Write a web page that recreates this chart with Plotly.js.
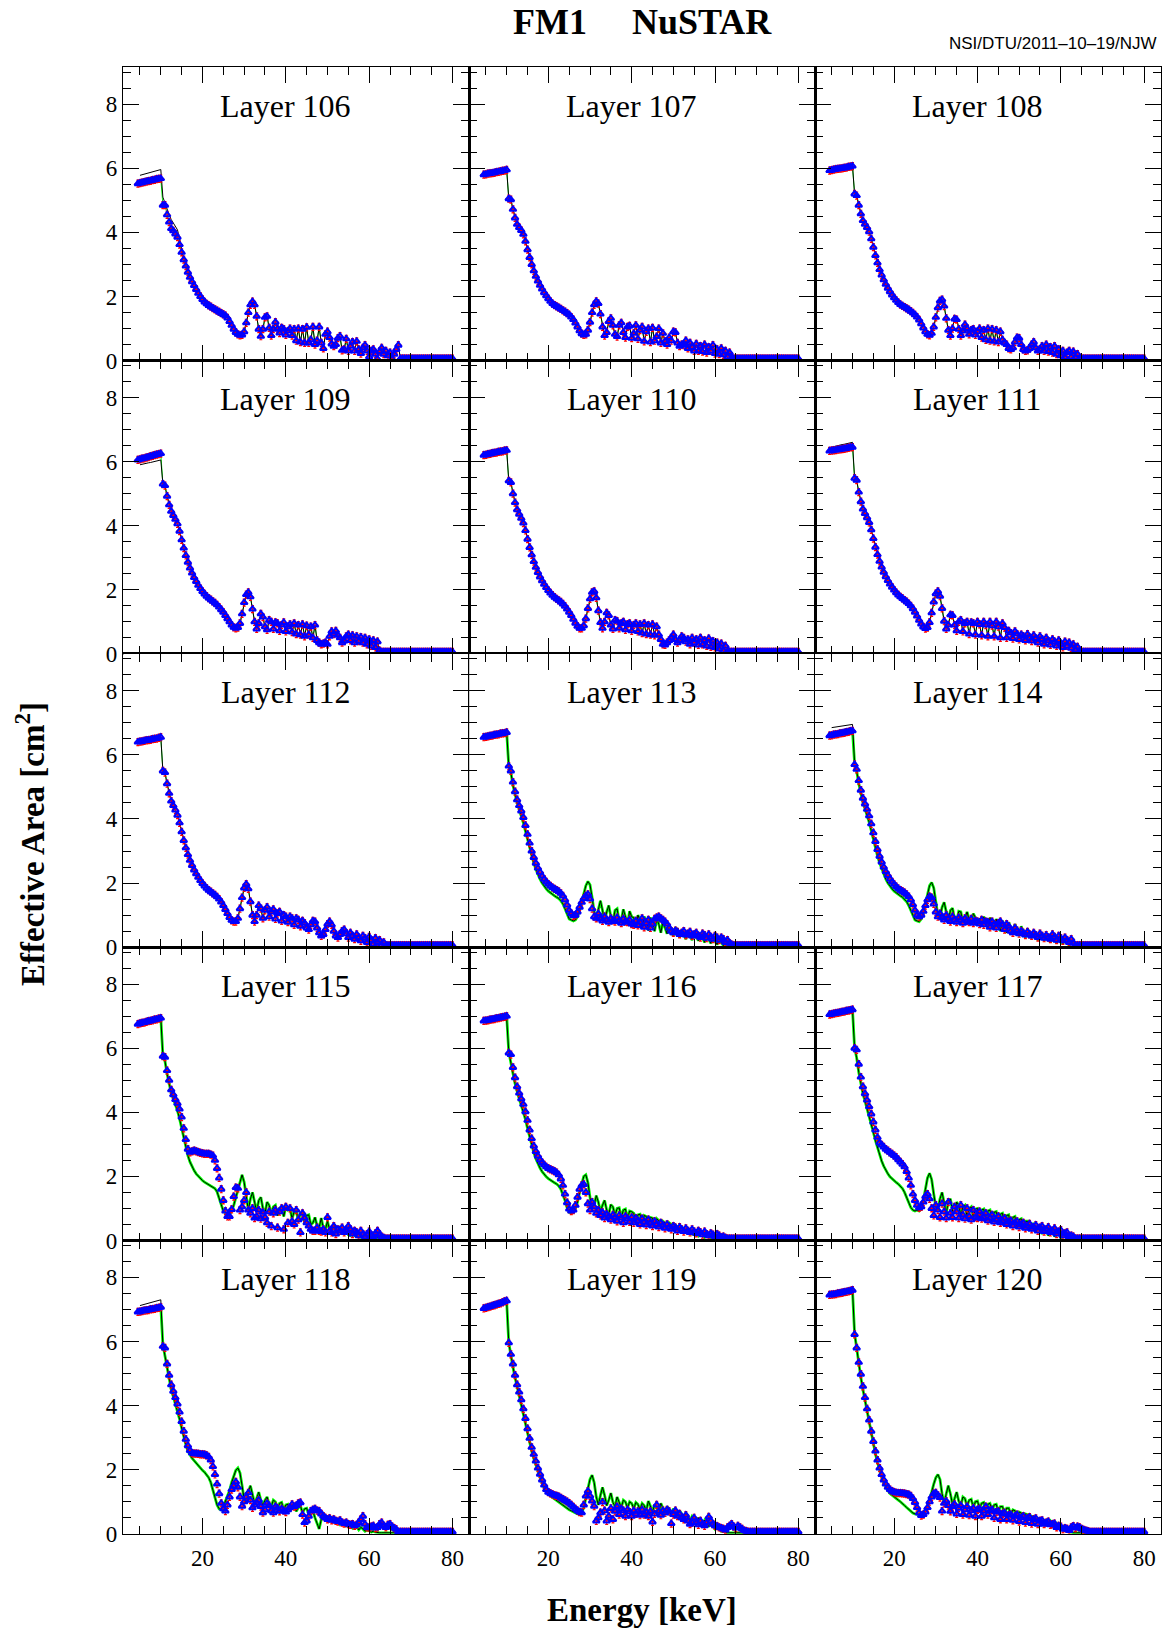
<!DOCTYPE html>
<html><head><meta charset="utf-8">
<script src="https://cdn.plot.ly/plotly-3.0.1.min.js"></script>
<style>html,body{margin:0;padding:0;background:#fff}#chart{width:1165px;height:1632px}
#chart .xtick text,#chart .ytick text{font-family:'Liberation Serif',serif !important}</style>
</head><body><div id="chart"></div>
<script>
// Energy grid of the measured points [keV]
const energy = [4.5,5,5.5,6,6.5,7,7.5,8,8.5,9,9.5,10,
10.5,11,11.5,12,12.5,13,13.5,14,14.5,15,15.5,16,16.5,17,17.5,18,18.5,19,19.5,20,20.5,21,21.5,22,22.5,23,23.5,24,24.5,25,
25.5,26,26.5,27,27.5,28,28.5,29,29.5,30,30.5,31,31.5,32,32.5,33,33.5,34,34.5,35,35.5,36,36.5,37,37.5,38,38.5,39,39.5,40,
40.5,41,41.5,42,42.5,43,43.5,44,44.5,45,45.5,46,46.5,47,47.5,48,48.5,49,49.5,50,50.5,51,51.5,52,52.5,53,53.5,54,54.5,55,
55.5,56,56.5,57,57.5,58,58.5,59,59.5,60,60.5,61,61.5,62,62.5,63,63.5,64,64.5,65,65.5,66,66.5,67,
67.5,68,68.5,69,69.5,70,70.5,71,71.5,72,72.5,73,73.5,74,74.5,75,75.5,76,76.5,77,77.5,78,78.5,79,79.5,80];
// model curves are given from 5 to 70 keV
const modelEnergy = energy.slice(1, 132);

const layerNames = ['Layer 106','Layer 107','Layer 108','Layer 109','Layer 110','Layer 111','Layer 112','Layer 113','Layer 114','Layer 115','Layer 116','Layer 117','Layer 118','Layer 119','Layer 120'];
const xTickVals = [20,40,60,80];
const xMidTicks = [10,30,50,70];
const yTickVals = [0,2,4,6,8];
const yMidTicks = [1,3,5,7,9];

// ---- measured effective area (blue points) and model (black line) per layer ----
const d106 = [5.52,5.54,5.55,5.57,5.58,5.6,5.61,5.63,5.64,5.66,5.67,5.68,
4.85,4.85,4.55,4.32,4.12,4.05,3.95,3.85,3.62,3.38,3.15,2.95,2.76,2.6,2.46,2.34,2.22,2.1,2.0,1.91,1.83,1.77,1.72,1.68,1.64,1.6,1.56,1.52,1.48,1.44,
1.4,1.33,1.22,1.1,0.98,0.88,0.82,0.79,0.8,0.9,1.18,1.5,1.74,1.84,1.74,1.38,0.98,0.76,0.98,1.35,1.38,1.02,0.78,0.98,1.2,1.0,0.86,1.02,0.98,0.8,
0.92,1.0,0.78,0.98,0.62,1.0,0.58,0.98,0.55,1.04,0.55,0.65,1.05,0.5,0.62,1.05,0.55,0.38,0.82,0.9,0.72,0.52,0.45,0.5,0.7,0.76,0.32,0.35,0.68,0.3,
0.45,0.58,0.3,0.6,0.35,0.22,0.4,0.48,0.3,0.12,0.3,0.35,0.2,0.05,0.28,0.4,0.2,0.3,0.15,0.25,0.05,0.2,0.35,0.48,
0.06,0.06,0.06,0.06,0.06,0.06,0.06,0.06,0.06,0.06,0.06,0.06,0.06,0.06,0.06,0.06,0.06,0.06,0.06,0.06,0.06,0.06,0.06,0.06,0.06,0.06];
const m106 = [5.78,5.8,5.82,5.84,5.86,5.87,5.88,5.9,5.92,5.94,5.96,
5.1,4.9,4.75,4.55,4.4,4.3,4.2,4.08,3.8,3.45,3.16,2.95,2.76,2.6,2.46,2.34,2.22,2.1,2.0,1.91,1.83,1.77,1.72,1.68,1.64,1.6,1.56,1.52,1.48,1.44,
1.4,1.33,1.22,1.1,0.98,0.88,0.82,0.79,0.8,0.9,1.18,1.5,1.74,1.84,1.74,1.38,0.98,0.76,0.98,1.35,1.38,1.02,0.78,0.98,1.2,1.0,0.86,1.02,0.98,0.8,
0.92,1.0,0.78,0.98,0.62,1.0,0.58,0.98,0.55,1.04,0.55,0.65,1.05,0.5,0.62,1.05,0.55,0.38,0.82,0.9,0.72,0.52,0.45,0.5,0.7,0.76,0.32,0.35,0.68,0.3,
0.45,0.58,0.3,0.6,0.35,0.22,0.4,0.48,0.3,0.12,0.3,0.35,0.2,0.05,0.28,0.4,0.2,0.3,0.15,0.25,0.05,0.2,0.35,0.48,
0.03,0.03,0.03,0.03,0.03,0.03];

const d107 = [5.8,5.81,5.83,5.84,5.85,5.86,5.88,5.89,5.9,5.92,5.93,5.95,
5.05,5.02,4.72,4.45,4.25,4.15,4.06,3.94,3.72,3.46,3.22,3.0,2.8,2.63,2.48,2.35,2.23,2.12,2.02,1.93,1.85,1.78,1.73,1.69,1.65,1.61,1.57,1.53,1.48,1.43,
1.36,1.28,1.17,1.05,0.93,0.84,0.8,0.82,0.95,1.2,1.5,1.74,1.85,1.78,1.45,1.05,0.78,0.88,1.22,1.32,1.1,0.82,0.75,1.1,1.18,0.88,0.72,1.05,1.08,0.7,
0.85,1.1,0.68,0.95,1.05,0.6,0.9,1.0,0.58,1.02,0.62,0.75,1.0,0.55,0.85,0.6,0.5,0.72,0.62,0.9,0.88,0.55,0.45,0.5,0.48,0.62,0.38,0.55,0.42,0.3,
0.52,0.3,0.45,0.28,0.5,0.25,0.42,0.3,0.48,0.22,0.35,0.2,0.38,0.18,0.3,0.12,0.25,0.08,0.06,0.06,0.06,0.06,0.06,0.06,
0.06,0.06,0.06,0.06,0.06,0.06,0.06,0.06,0.06,0.06,0.06,0.06,0.06,0.06,0.06,0.06,0.06,0.06,0.06,0.06,0.06,0.06,0.06,0.06,0.06,0.06];
const m107 = [5.81,5.83,5.84,5.85,5.86,5.88,5.89,5.9,5.92,5.93,5.95,
5.05,5.02,4.72,4.45,4.25,4.15,4.06,3.94,3.72,3.46,3.22,3.0,2.8,2.63,2.48,2.35,2.23,2.12,2.02,1.93,1.85,1.78,1.73,1.69,1.65,1.61,1.57,1.53,1.48,1.43,
1.36,1.28,1.17,1.05,0.93,0.84,0.8,0.82,0.95,1.2,1.5,1.74,1.85,1.78,1.45,1.05,0.78,0.88,1.22,1.32,1.1,0.82,0.75,1.1,1.18,0.88,0.72,1.05,1.08,0.7,
0.85,1.1,0.68,0.95,1.05,0.6,0.9,1.0,0.58,1.02,0.62,0.75,1.0,0.55,0.85,0.6,0.5,0.72,0.62,0.9,0.88,0.55,0.45,0.5,0.48,0.62,0.38,0.55,0.42,0.3,
0.52,0.3,0.45,0.28,0.5,0.25,0.42,0.3,0.48,0.22,0.35,0.2,0.38,0.18,0.3,0.12,0.25,0.08,0.04,0.03,0.03,0.03,0.03,0.03,
0.03,0.03,0.03,0.03,0.03,0.03];

const d108 = [5.93,5.94,5.96,5.97,5.98,5.99,6.0,6.01,6.02,6.04,6.05,6.07,
5.2,5.15,4.85,4.58,4.37,4.25,4.15,4.02,3.8,3.54,3.28,3.05,2.84,2.67,2.52,2.38,2.26,2.15,2.05,1.96,1.88,1.81,1.75,1.71,1.67,1.63,1.59,1.54,1.49,1.43,
1.36,1.27,1.15,1.02,0.9,0.82,0.79,0.85,1.05,1.35,1.65,1.86,1.9,1.7,1.32,0.95,0.78,1.0,1.3,1.28,0.98,0.78,0.92,1.12,1.0,0.82,0.95,0.98,0.8,0.9,
1.0,0.72,0.95,0.65,1.0,0.62,0.98,0.6,0.95,0.58,0.9,0.65,0.55,0.5,0.38,0.35,0.4,0.58,0.72,0.7,0.5,0.35,0.3,0.32,0.38,0.5,0.58,0.4,0.3,0.35,
0.45,0.3,0.5,0.28,0.42,0.25,0.45,0.2,0.35,0.15,0.3,0.1,0.25,0.3,0.12,0.28,0.1,0.2,0.06,0.06,0.06,0.06,0.06,0.06,
0.06,0.06,0.06,0.06,0.06,0.06,0.06,0.06,0.06,0.06,0.06,0.06,0.06,0.06,0.06,0.06,0.06,0.06,0.06,0.06,0.06,0.06,0.06,0.06,0.06,0.06];
const m108 = [5.94,5.96,5.97,5.98,5.99,6.0,6.01,6.02,6.04,6.05,6.07,
5.2,5.15,4.85,4.58,4.37,4.25,4.15,4.02,3.8,3.54,3.28,3.05,2.84,2.67,2.52,2.38,2.26,2.15,2.05,1.96,1.88,1.81,1.75,1.71,1.67,1.63,1.59,1.54,1.49,1.43,
1.36,1.27,1.15,1.02,0.9,0.82,0.79,0.85,1.05,1.35,1.65,1.86,1.9,1.7,1.32,0.95,0.78,1.0,1.3,1.28,0.98,0.78,0.92,1.12,1.0,0.82,0.95,0.98,0.8,0.9,
1.0,0.72,0.95,0.65,1.0,0.62,0.98,0.6,0.95,0.58,0.9,0.65,0.55,0.5,0.38,0.35,0.4,0.58,0.72,0.7,0.5,0.35,0.3,0.32,0.38,0.5,0.58,0.4,0.3,0.35,
0.45,0.3,0.5,0.28,0.42,0.25,0.45,0.2,0.35,0.15,0.3,0.1,0.25,0.3,0.12,0.28,0.1,0.2,0.04,0.03,0.03,0.03,0.03,0.03,
0.03,0.03,0.03,0.03,0.03,0.03];

const d109 = [6.05,6.07,6.09,6.1,6.12,6.14,6.16,6.18,6.2,6.22,6.23,6.25,
5.3,5.25,4.92,4.65,4.45,4.32,4.2,4.06,3.83,3.56,3.3,3.07,2.86,2.68,2.52,2.38,2.26,2.14,2.04,1.95,1.87,1.8,1.74,1.69,1.64,1.59,1.53,1.46,1.38,1.3,
1.2,1.1,1.0,0.9,0.83,0.8,0.82,0.95,1.25,1.6,1.85,1.92,1.78,1.4,1.0,0.78,0.95,1.25,1.15,0.85,0.75,1.05,1.0,0.78,0.98,0.95,0.72,0.9,0.98,0.7,
0.85,0.92,0.68,0.95,0.62,0.9,0.6,0.92,0.55,0.88,0.6,0.85,0.5,0.9,0.42,0.35,0.3,0.32,0.35,0.3,0.55,0.7,0.62,0.72,0.58,0.5,0.35,0.4,0.55,0.6,
0.42,0.58,0.35,0.55,0.4,0.52,0.35,0.5,0.3,0.45,0.25,0.42,0.2,0.38,0.1,0.06,0.06,0.06,0.06,0.06,0.06,0.06,0.06,0.06,
0.06,0.06,0.06,0.06,0.06,0.06,0.06,0.06,0.06,0.06,0.06,0.06,0.06,0.06,0.06,0.06,0.06,0.06,0.06,0.06,0.06,0.06,0.06,0.06,0.06,0.06];
const m109 = [5.9,5.92,5.93,5.95,5.96,5.97,5.99,6.0,6.02,6.03,6.05,
5.3,5.25,4.92,4.65,4.45,4.32,4.2,4.06,3.83,3.56,3.3,3.07,2.86,2.68,2.52,2.38,2.26,2.14,2.04,1.95,1.87,1.8,1.74,1.69,1.64,1.59,1.53,1.46,1.38,1.3,
1.2,1.1,1.0,0.9,0.83,0.8,0.82,0.95,1.25,1.6,1.85,1.92,1.78,1.4,1.0,0.78,0.95,1.25,1.15,0.85,0.75,1.05,1.0,0.78,0.98,0.95,0.72,0.9,0.98,0.7,
0.85,0.92,0.68,0.95,0.62,0.9,0.6,0.92,0.55,0.88,0.6,0.85,0.5,0.9,0.42,0.35,0.3,0.32,0.35,0.3,0.55,0.7,0.62,0.72,0.58,0.5,0.35,0.4,0.55,0.6,
0.42,0.58,0.35,0.55,0.4,0.52,0.35,0.5,0.3,0.45,0.25,0.42,0.2,0.38,0.1,0.04,0.03,0.03,0.03,0.03,0.03,0.03,0.03,0.03,
0.03,0.03,0.03,0.03,0.03,0.03];

const d110 = [6.2,6.21,6.23,6.24,6.26,6.27,6.28,6.3,6.31,6.32,6.34,6.35,
5.4,5.35,5.0,4.72,4.5,4.36,4.23,4.08,3.85,3.58,3.32,3.09,2.88,2.7,2.54,2.4,2.28,2.17,2.07,1.98,1.9,1.83,1.77,1.72,1.67,1.62,1.56,1.49,1.4,1.3,
1.2,1.08,0.96,0.86,0.8,0.8,0.88,1.1,1.42,1.72,1.92,1.95,1.75,1.35,0.98,0.8,1.0,1.28,1.2,0.9,0.78,1.05,1.02,0.8,0.95,1.0,0.75,0.92,0.95,0.72,
0.9,0.95,0.7,0.92,0.65,0.95,0.62,0.9,0.6,0.92,0.58,0.85,0.6,0.45,0.3,0.28,0.35,0.42,0.5,0.6,0.45,0.35,0.42,0.55,0.5,0.38,0.45,0.3,0.5,0.35,
0.45,0.28,0.5,0.3,0.42,0.25,0.48,0.22,0.4,0.2,0.35,0.15,0.32,0.1,0.25,0.06,0.06,0.06,0.06,0.06,0.06,0.06,0.06,0.06,
0.06,0.06,0.06,0.06,0.06,0.06,0.06,0.06,0.06,0.06,0.06,0.06,0.06,0.06,0.06,0.06,0.06,0.06,0.06,0.06,0.06,0.06,0.06,0.06,0.06,0.06];
const m110 = [6.21,6.23,6.24,6.26,6.27,6.28,6.3,6.31,6.32,6.34,6.35,
5.4,5.35,5.0,4.72,4.5,4.36,4.23,4.08,3.85,3.58,3.32,3.09,2.88,2.7,2.54,2.4,2.28,2.17,2.07,1.98,1.9,1.83,1.77,1.72,1.67,1.62,1.56,1.49,1.4,1.3,
1.2,1.08,0.96,0.86,0.8,0.8,0.88,1.1,1.42,1.72,1.92,1.95,1.75,1.35,0.98,0.8,1.0,1.28,1.2,0.9,0.78,1.05,1.02,0.8,0.95,1.0,0.75,0.92,0.95,0.72,
0.9,0.95,0.7,0.92,0.65,0.95,0.62,0.9,0.6,0.92,0.58,0.85,0.6,0.45,0.3,0.28,0.35,0.42,0.5,0.6,0.45,0.35,0.42,0.55,0.5,0.38,0.45,0.3,0.5,0.35,
0.45,0.28,0.5,0.3,0.42,0.25,0.48,0.22,0.4,0.2,0.35,0.15,0.32,0.1,0.25,0.04,0.03,0.03,0.03,0.03,0.03,0.03,0.03,0.03,
0.03,0.03,0.03,0.03,0.03,0.03];

const d111 = [6.33,6.34,6.35,6.36,6.37,6.38,6.39,6.4,6.41,6.43,6.44,6.45,
5.48,5.42,5.05,4.75,4.52,4.38,4.25,4.1,3.87,3.6,3.33,3.1,2.89,2.71,2.55,2.41,2.29,2.18,2.08,1.99,1.91,1.84,1.78,1.73,1.68,1.63,1.57,1.5,1.41,1.3,
1.18,1.05,0.93,0.84,0.79,0.82,0.98,1.28,1.62,1.88,1.95,1.8,1.42,1.02,0.78,0.9,1.22,1.2,0.9,0.72,1.0,1.05,0.7,0.95,1.0,0.62,0.98,0.95,0.6,1.0,
0.92,0.58,1.0,0.9,0.55,1.0,0.88,0.55,1.0,0.85,0.5,0.95,0.82,0.5,0.72,0.65,0.48,0.7,0.62,0.45,0.6,0.55,0.42,0.62,0.5,0.4,0.58,0.48,0.35,0.55,
0.45,0.3,0.5,0.4,0.28,0.45,0.38,0.25,0.42,0.3,0.2,0.38,0.25,0.35,0.18,0.3,0.12,0.22,0.06,0.06,0.06,0.06,0.06,0.06,
0.06,0.06,0.06,0.06,0.06,0.06,0.06,0.06,0.06,0.06,0.06,0.06,0.06,0.06,0.06,0.06,0.06,0.06,0.06,0.06,0.06,0.06,0.06,0.06,0.06,0.06];
const m111 = [6.45,6.47,6.48,6.5,6.51,6.53,6.54,6.56,6.57,6.58,6.6,
5.48,5.42,5.05,4.75,4.52,4.38,4.25,4.1,3.87,3.6,3.33,3.1,2.89,2.71,2.55,2.41,2.29,2.18,2.08,1.99,1.91,1.84,1.78,1.73,1.68,1.63,1.57,1.5,1.41,1.3,
1.18,1.05,0.93,0.84,0.79,0.82,0.98,1.28,1.62,1.88,1.95,1.8,1.42,1.02,0.78,0.9,1.22,1.2,0.9,0.72,1.0,1.05,0.7,0.95,1.0,0.62,0.98,0.95,0.6,1.0,
0.92,0.58,1.0,0.9,0.55,1.0,0.88,0.55,1.0,0.85,0.5,0.95,0.82,0.5,0.72,0.65,0.48,0.7,0.62,0.45,0.6,0.55,0.42,0.62,0.5,0.4,0.58,0.48,0.35,0.55,
0.45,0.3,0.5,0.4,0.28,0.45,0.38,0.25,0.42,0.3,0.2,0.38,0.25,0.35,0.18,0.3,0.12,0.22,0.04,0.03,0.03,0.03,0.03,0.03,
0.03,0.03,0.03,0.03,0.03,0.03];

const d112 = [6.4,6.41,6.42,6.44,6.45,6.46,6.47,6.49,6.5,6.51,6.53,6.55,
5.5,5.45,5.1,4.8,4.56,4.42,4.28,4.12,3.88,3.6,3.33,3.1,2.89,2.71,2.55,2.41,2.29,2.18,2.08,1.99,1.91,1.84,1.78,1.73,1.68,1.63,1.57,1.5,1.41,1.3,
1.18,1.05,0.93,0.84,0.8,0.8,0.9,1.2,1.55,1.85,1.97,1.82,1.42,1.0,0.8,1.0,1.3,1.2,0.9,1.15,1.25,0.95,1.1,1.18,0.88,1.05,1.1,0.82,1.0,0.95,
0.78,0.95,0.9,0.7,0.9,0.85,0.65,0.82,0.75,0.6,0.55,0.7,0.82,0.8,0.6,0.45,0.35,0.4,0.55,0.72,0.8,0.7,0.5,0.35,0.3,0.4,0.5,0.55,0.42,0.3,
0.45,0.35,0.25,0.4,0.3,0.2,0.35,0.28,0.15,0.32,0.22,0.1,0.28,0.15,0.22,0.08,0.15,0.06,0.06,0.06,0.06,0.06,0.06,0.06,
0.06,0.06,0.06,0.06,0.06,0.06,0.06,0.06,0.06,0.06,0.06,0.06,0.06,0.06,0.06,0.06,0.06,0.06,0.06,0.06,0.06,0.06,0.06,0.06,0.06,0.06];
const m112 = [6.41,6.42,6.44,6.45,6.46,6.47,6.49,6.5,6.51,6.53,6.55,
5.5,5.45,5.1,4.8,4.56,4.42,4.28,4.12,3.88,3.6,3.33,3.1,2.89,2.71,2.55,2.41,2.29,2.18,2.08,1.99,1.91,1.84,1.78,1.73,1.68,1.63,1.57,1.5,1.41,1.3,
1.18,1.05,0.93,0.84,0.8,0.8,0.9,1.2,1.55,1.85,1.97,1.82,1.42,1.0,0.8,1.0,1.3,1.2,0.9,1.15,1.25,0.95,1.1,1.18,0.88,1.05,1.1,0.82,1.0,0.95,
0.78,0.95,0.9,0.7,0.9,0.85,0.65,0.82,0.75,0.6,0.55,0.7,0.82,0.8,0.6,0.45,0.35,0.4,0.55,0.72,0.8,0.7,0.5,0.35,0.3,0.4,0.5,0.55,0.42,0.3,
0.45,0.35,0.25,0.4,0.3,0.2,0.35,0.28,0.15,0.32,0.22,0.1,0.28,0.15,0.22,0.08,0.15,0.04,0.03,0.03,0.03,0.03,0.03,0.03,
0.03,0.03,0.03,0.03,0.03,0.03];

const d113 = [6.55,6.56,6.58,6.59,6.6,6.62,6.63,6.64,6.66,6.67,6.68,6.7,
5.65,5.5,5.15,4.85,4.6,4.42,4.25,4.05,3.8,3.52,3.25,3.0,2.8,2.62,2.47,2.34,2.22,2.12,2.04,1.97,1.91,1.86,1.82,1.78,1.74,1.68,1.6,1.48,1.32,1.15,
1.05,0.98,1.0,1.1,1.25,1.4,1.52,1.6,1.65,1.5,1.2,0.95,0.9,1.05,0.88,0.82,0.95,0.85,0.78,0.9,0.84,0.8,0.92,0.82,0.75,0.88,0.8,0.78,0.85,0.72,
0.7,0.82,0.68,0.78,0.9,0.62,0.75,0.85,0.6,0.72,0.88,0.92,0.95,0.9,0.85,0.8,0.72,0.6,0.5,0.45,0.52,0.48,0.4,0.45,0.5,0.38,0.42,0.48,0.35,0.4,
0.45,0.35,0.3,0.42,0.38,0.28,0.4,0.32,0.25,0.35,0.3,0.22,0.3,0.25,0.15,0.22,0.12,0.08,0.06,0.06,0.06,0.06,0.06,0.06,
0.06,0.06,0.06,0.06,0.06,0.06,0.06,0.06,0.06,0.06,0.06,0.06,0.06,0.06,0.06,0.06,0.06,0.06,0.06,0.06,0.06,0.06,0.06,0.06,0.06,0.06];
const m113 = [6.56,6.58,6.59,6.6,6.62,6.63,6.64,6.66,6.67,6.68,6.7,
5.65,5.45,5.05,4.75,4.5,4.3,4.1,3.88,3.62,3.35,3.08,2.84,2.62,2.43,2.26,2.12,2.0,1.9,1.82,1.75,1.69,1.64,1.6,1.56,1.52,1.45,1.35,1.2,1.02,0.88,
0.85,0.82,0.85,0.95,1.15,1.42,1.7,1.92,2.05,1.95,1.55,1.1,0.9,1.2,1.45,1.15,0.82,1.1,1.3,0.95,0.78,1.15,1.2,0.8,0.85,1.18,0.92,0.72,1.12,0.95,
0.92,0.62,1.0,0.85,0.58,0.95,0.82,0.52,0.92,0.78,0.5,0.88,0.72,0.45,0.8,0.62,0.42,0.7,0.55,0.35,0.62,0.48,0.3,0.55,0.42,0.25,0.5,0.38,0.22,0.45,
0.35,0.2,0.42,0.3,0.15,0.38,0.25,0.12,0.3,0.2,0.08,0.25,0.15,0.05,0.18,0.08,0.04,0.03,0.03,0.03,0.03,0.03,0.03,0.03,
0.03,0.03,0.03,0.03,0.03,0.03];

const d114 = [6.6,6.61,6.63,6.64,6.65,6.67,6.68,6.69,6.71,6.72,6.74,6.75,
5.7,5.55,5.2,4.9,4.65,4.47,4.3,4.1,3.85,3.57,3.3,3.05,2.84,2.66,2.5,2.36,2.24,2.13,2.04,1.96,1.89,1.83,1.78,1.74,1.7,1.65,1.58,1.48,1.33,1.15,
1.0,0.95,1.0,1.12,1.3,1.48,1.58,1.55,1.35,1.1,0.95,1.05,0.92,0.85,1.0,0.88,0.8,0.95,0.85,0.78,0.92,0.85,0.75,0.9,0.82,0.78,0.88,0.75,0.82,0.8,
0.72,0.85,0.7,0.8,0.78,0.62,0.8,0.72,0.6,0.75,0.8,0.7,0.55,0.72,0.65,0.5,0.45,0.6,0.52,0.42,0.5,0.45,0.38,0.48,0.4,0.35,0.45,0.38,0.3,0.42,
0.35,0.28,0.38,0.3,0.25,0.4,0.32,0.22,0.35,0.28,0.2,0.3,0.22,0.15,0.25,0.12,0.06,0.06,0.06,0.06,0.06,0.06,0.06,0.06,
0.06,0.06,0.06,0.06,0.06,0.06,0.06,0.06,0.06,0.06,0.06,0.06,0.06,0.06,0.06,0.06,0.06,0.06,0.06,0.06,0.06,0.06,0.06,0.06,0.06,0.06];
const m114 = [6.85,6.86,6.87,6.88,6.89,6.9,6.91,6.92,6.93,6.94,6.95,
5.75,5.5,5.1,4.78,4.52,4.32,4.12,3.9,3.64,3.36,3.1,2.85,2.63,2.44,2.27,2.12,2.0,1.9,1.82,1.75,1.69,1.64,1.6,1.56,1.5,1.42,1.3,1.15,0.98,0.85,
0.82,0.8,0.88,1.05,1.35,1.68,1.92,2.02,1.85,1.42,1.0,0.9,1.25,1.4,1.05,0.82,1.15,1.22,0.88,0.8,1.12,1.1,0.78,0.9,1.1,0.85,0.75,1.05,0.92,0.7,
0.9,0.65,0.95,0.82,0.58,0.92,0.78,0.55,0.88,0.72,0.5,0.82,0.68,0.45,0.78,0.6,0.4,0.72,0.55,0.35,0.65,0.48,0.3,0.58,0.42,0.28,0.5,0.38,0.22,0.45,
0.35,0.2,0.4,0.28,0.15,0.38,0.25,0.12,0.32,0.2,0.1,0.28,0.15,0.06,0.2,0.08,0.04,0.03,0.03,0.03,0.03,0.03,0.03,0.03,
0.03,0.03,0.03,0.03,0.03,0.03];
const g114lo = [6.61,6.63,6.64,6.65,6.67,6.68,6.69,6.71,6.72,6.74,6.75];

const d115 = [6.75,6.77,6.79,6.8,6.82,6.84,6.85,6.87,6.89,6.9,6.92,6.94,
5.75,5.72,5.3,5.0,4.7,4.55,4.4,4.28,4.1,3.85,3.5,3.15,2.85,2.75,2.78,2.8,2.78,2.76,2.73,2.72,2.7,2.7,2.7,2.68,2.65,2.5,2.25,1.95,1.6,1.25,
0.92,0.75,0.75,0.97,1.37,1.65,1.63,0.95,1.05,1.25,1.5,0.95,0.85,1.0,0.7,0.75,0.95,0.68,0.88,0.72,0.55,0.9,0.45,0.85,0.95,0.4,0.9,1.0,0.35,1.05,
0.55,1.0,0.6,0.5,0.95,0.65,0.25,0.85,0.7,0.55,0.45,0.35,0.3,0.3,0.4,0.3,0.28,0.35,0.25,0.72,0.3,0.25,0.45,0.2,0.35,0.3,0.4,0.25,0.3,0.45,
0.35,0.2,0.3,0.25,0.15,0.3,0.2,0.12,0.2,0.28,0.15,0.1,0.22,0.3,0.18,0.12,0.08,0.06,0.06,0.06,0.06,0.06,0.06,0.06,
0.06,0.06,0.06,0.06,0.06,0.06,0.06,0.06,0.06,0.06,0.06,0.06,0.06,0.06,0.06,0.06,0.06,0.06,0.06,0.06,0.06,0.06,0.06,0.06,0.06,0.06];
const m115 = [6.77,6.79,6.8,6.82,6.84,6.85,6.87,6.89,6.9,6.92,6.94,
5.78,5.6,5.2,4.88,4.6,4.42,4.25,4.05,3.8,3.5,3.2,2.92,2.65,2.45,2.3,2.18,2.08,2.0,1.93,1.87,1.82,1.78,1.75,1.72,1.68,1.62,1.52,1.35,1.12,0.92,
0.85,0.8,0.82,0.92,1.1,1.35,1.62,1.88,2.05,1.82,1.35,0.95,1.3,1.5,1.2,0.9,1.25,1.35,1.0,0.85,1.2,1.1,0.82,1.05,1.1,0.78,1.0,1.05,0.75,1.05,
0.95,1.0,0.68,0.9,0.92,0.62,0.85,0.88,0.55,0.78,0.8,0.5,0.55,0.72,0.45,0.4,0.7,0.38,0.35,0.6,0.32,0.3,0.52,0.28,0.25,0.45,0.22,0.2,0.38,0.18,
0.15,0.3,0.15,0.12,0.25,0.1,0.08,0.2,0.08,0.06,0.15,0.05,0.04,0.1,0.04,0.03,0.03,0.03,0.03,0.03,0.03,0.03,0.03,0.03,
0.03,0.03,0.03,0.03,0.03,0.03];

const d116 = [6.85,6.86,6.87,6.89,6.9,6.91,6.93,6.94,6.95,6.97,6.98,7.0,
5.85,5.8,5.4,5.08,4.8,4.6,4.42,4.25,4.02,3.75,3.45,3.18,2.95,2.78,2.64,2.52,2.43,2.36,2.3,2.25,2.22,2.19,2.16,2.12,2.05,1.92,1.72,1.45,1.18,0.98,
0.92,0.95,1.1,1.35,1.6,1.72,1.75,1.5,1.15,0.95,1.2,1.05,0.85,0.95,0.78,0.88,0.7,0.82,0.75,0.65,0.8,0.72,0.6,0.78,0.7,0.55,0.75,0.68,0.58,0.72,
0.55,0.7,0.62,0.5,0.68,0.58,0.48,0.65,0.55,0.45,0.6,0.5,0.42,0.55,0.48,0.38,0.5,0.42,0.35,0.45,0.4,0.3,0.42,0.35,0.28,0.38,0.3,0.25,0.35,0.28,
0.22,0.3,0.25,0.18,0.28,0.2,0.15,0.22,0.18,0.12,0.2,0.15,0.1,0.12,0.08,0.06,0.06,0.06,0.06,0.06,0.06,0.06,0.06,0.06,
0.06,0.06,0.06,0.06,0.06,0.06,0.06,0.06,0.06,0.06,0.06,0.06,0.06,0.06,0.06,0.06,0.06,0.06,0.06,0.06,0.06,0.06,0.06,0.06,0.06,0.06];
const m116 = [6.76,6.77,6.79,6.8,6.82,6.83,6.85,6.86,6.88,6.89,6.9,
5.88,5.6,5.22,4.9,4.62,4.42,4.22,4.02,3.78,3.5,3.22,2.96,2.74,2.55,2.39,2.26,2.15,2.06,1.99,1.93,1.88,1.84,1.8,1.76,1.7,1.6,1.45,1.25,1.02,0.88,
0.85,0.88,1.0,1.2,1.5,1.8,2.0,2.05,1.8,1.35,1.0,1.1,1.4,1.2,0.9,1.1,1.25,0.95,0.82,1.12,1.05,0.78,1.0,1.02,0.72,0.95,0.98,0.68,0.92,0.9,
0.85,0.6,0.8,0.82,0.55,0.78,0.75,0.5,0.72,0.7,0.45,0.68,0.62,0.42,0.6,0.55,0.38,0.55,0.5,0.32,0.48,0.42,0.28,0.42,0.36,0.22,0.35,0.3,0.18,0.3,
0.25,0.15,0.25,0.2,0.1,0.2,0.15,0.08,0.15,0.1,0.05,0.1,0.06,0.04,0.04,0.03,0.03,0.03,0.03,0.03,0.03,0.03,0.03,0.03,
0.03,0.03,0.03,0.03,0.03,0.03];
const g116lo = [6.86,6.87,6.89,6.9,6.91,6.93,6.94,6.95,6.97,6.98,7.0];

const d117 = [7.05,7.06,7.08,7.09,7.1,7.12,7.13,7.14,7.16,7.17,7.19,7.2,
6.0,5.95,5.5,5.1,4.8,4.58,4.38,4.18,3.95,3.7,3.45,3.22,3.05,2.98,2.92,2.85,2.8,2.75,2.7,2.65,2.6,2.52,2.45,2.38,2.3,2.15,1.95,1.72,1.45,1.25,
1.1,1.02,1.05,1.2,1.38,1.45,1.3,1.0,0.78,1.1,0.95,0.72,1.15,0.9,0.7,1.2,0.85,0.72,1.05,0.9,0.7,1.1,0.8,0.68,1.0,0.75,0.65,0.95,0.72,0.7,
0.9,0.68,0.72,0.85,0.62,0.7,0.8,0.58,0.65,0.75,0.55,0.6,0.7,0.5,0.58,0.62,0.45,0.55,0.6,0.42,0.5,0.55,0.38,0.45,0.52,0.35,0.42,0.48,0.3,0.4,
0.45,0.28,0.35,0.42,0.25,0.3,0.38,0.2,0.28,0.32,0.15,0.22,0.25,0.1,0.15,0.12,0.06,0.06,0.06,0.06,0.06,0.06,0.06,0.06,
0.06,0.06,0.06,0.06,0.06,0.06,0.06,0.06,0.06,0.06,0.06,0.06,0.06,0.06,0.06,0.06,0.06,0.06,0.06,0.06,0.06,0.06,0.06,0.06,0.06,0.06];
const m117 = [7.06,7.08,7.09,7.1,7.12,7.13,7.14,7.16,7.17,7.19,7.2,
6.02,5.7,5.25,4.88,4.58,4.35,4.12,3.9,3.65,3.38,3.12,2.88,2.66,2.48,2.32,2.19,2.08,1.99,1.92,1.86,1.81,1.76,1.7,1.62,1.5,1.35,1.18,1.03,0.95,0.92,
0.95,0.92,1.0,1.25,1.6,1.95,2.1,1.9,1.45,1.05,0.95,1.3,1.5,1.15,0.85,1.2,1.3,0.92,0.85,1.2,1.1,0.78,1.05,1.1,0.75,1.0,1.05,0.72,0.98,1.0,
0.7,0.95,0.98,0.65,0.92,0.95,0.6,0.88,0.9,0.55,0.82,0.85,0.5,0.78,0.8,0.45,0.72,0.75,0.4,0.65,0.68,0.35,0.6,0.6,0.3,0.52,0.52,0.25,0.45,0.45,
0.2,0.38,0.38,0.15,0.3,0.3,0.12,0.22,0.22,0.08,0.15,0.15,0.05,0.08,0.06,0.03,0.03,0.03,0.03,0.03,0.03,0.03,0.03,0.03,
0.03,0.03,0.03,0.03,0.03,0.03];

const d118 = [6.92,6.93,6.95,6.96,6.97,6.98,7.0,7.01,7.02,7.04,7.05,7.07,
5.85,5.8,5.3,4.95,4.65,4.45,4.25,4.05,3.8,3.5,3.2,2.95,2.75,2.6,2.52,2.5,2.5,2.49,2.48,2.48,2.47,2.45,2.4,2.3,2.1,1.85,1.55,1.25,0.95,0.78,
0.71,0.9,1.15,1.38,1.5,1.62,1.45,1.15,0.86,1.0,1.15,1.28,1.05,0.81,0.9,0.97,1.05,0.85,0.66,0.75,0.95,0.88,0.72,0.66,0.85,0.8,0.7,0.78,0.72,0.68,
0.75,0.82,0.92,0.85,0.88,0.95,0.97,0.6,0.35,0.4,0.55,0.71,0.75,0.78,0.72,0.71,0.62,0.55,0.5,0.45,0.48,0.42,0.45,0.4,0.38,0.42,0.35,0.32,0.35,0.3,
0.28,0.3,0.25,0.28,0.35,0.45,0.55,0.3,0.2,0.19,0.22,0.25,0.18,0.2,0.3,0.35,0.25,0.2,0.28,0.3,0.22,0.18,0.14,0.06,
0.06,0.06,0.06,0.06,0.06,0.06,0.06,0.06,0.06,0.06,0.06,0.06,0.06,0.06,0.06,0.06,0.06,0.06,0.06,0.06,0.06,0.06,0.06,0.06,0.06,0.06];
const m118 = [7.12,7.14,7.16,7.18,7.2,7.22,7.24,7.25,7.27,7.28,7.3,
5.9,5.55,5.12,4.78,4.5,4.28,4.06,3.84,3.58,3.3,3.02,2.78,2.58,2.45,2.36,2.28,2.2,2.12,2.05,1.98,1.92,1.85,1.75,1.6,1.38,1.12,0.9,0.78,0.75,0.85,
1.0,1.15,1.35,1.6,1.82,1.98,2.05,1.9,1.5,1.08,0.95,1.3,1.5,1.25,0.95,1.1,1.3,1.05,0.88,1.05,1.15,0.9,0.85,1.05,1.0,0.8,0.95,0.98,0.75,0.9,
0.92,0.72,0.85,0.9,0.7,0.82,0.88,0.65,0.78,0.8,0.6,0.72,0.7,0.5,0.3,0.15,0.45,0.62,0.55,0.42,0.55,0.5,0.35,0.45,0.42,0.3,0.38,0.35,0.22,0.32,
0.28,0.18,0.25,0.22,0.12,0.2,0.15,0.08,0.12,0.1,0.05,0.08,0.05,0.03,0.03,0.03,0.03,0.03,0.03,0.03,0.03,0.03,0.03,0.03,
0.03,0.03,0.03,0.03,0.03,0.03];
const g118lo = [6.93,6.95,6.96,6.97,6.98,7.0,7.01,7.02,7.04,7.05,7.07];

const d119 = [7.03,7.05,7.07,7.09,7.11,7.13,7.15,7.17,7.19,7.22,7.25,7.27,
5.96,5.6,5.3,4.95,4.65,4.42,4.18,3.9,3.6,3.28,2.98,2.7,2.48,2.27,2.05,1.86,1.68,1.52,1.38,1.3,1.26,1.23,1.2,1.18,1.16,1.12,1.08,1.04,1.0,0.96,
0.9,0.84,0.78,0.72,0.68,0.66,0.9,1.18,1.33,1.18,1.02,0.86,0.4,0.5,0.66,0.99,0.72,0.4,0.55,0.79,0.45,0.7,0.85,0.6,0.78,0.72,0.55,0.75,0.68,0.55,
0.72,0.62,0.7,0.58,0.75,0.6,0.68,0.55,0.7,0.37,0.62,0.9,0.7,0.58,0.72,0.65,0.75,0.7,0.32,0.6,0.72,0.55,0.62,0.5,0.45,0.58,0.4,0.3,0.35,0.5,
0.35,0.28,0.4,0.3,0.25,0.35,0.53,0.4,0.3,0.25,0.24,0.2,0.18,0.15,0.12,0.2,0.25,0.3,0.22,0.18,0.25,0.2,0.15,0.1,
0.08,0.06,0.06,0.06,0.06,0.06,0.06,0.06,0.06,0.06,0.06,0.06,0.06,0.06,0.06,0.06,0.06,0.06,0.06,0.06,0.06,0.06,0.06,0.06,0.06,0.06];
const m119 = [7.0,7.02,7.04,7.06,7.08,7.1,7.12,7.14,7.16,7.19,7.22,
5.96,5.55,5.2,4.88,4.58,4.32,4.05,3.76,3.46,3.15,2.85,2.58,2.35,2.14,1.93,1.75,1.58,1.43,1.32,1.24,1.18,1.13,1.09,1.05,1.0,0.95,0.9,0.85,0.8,0.75,
0.72,0.68,0.64,0.62,0.61,0.66,0.82,1.1,1.42,1.7,1.83,1.6,1.15,0.9,1.2,1.45,1.2,0.88,1.05,1.27,0.98,0.85,1.15,1.0,0.82,1.05,1.0,0.8,1.0,0.95,
0.78,0.98,0.92,0.75,0.95,0.88,0.72,1.02,0.85,0.7,0.9,0.82,0.65,0.95,0.8,0.62,0.85,0.75,0.58,0.78,0.7,0.52,0.72,0.62,0.45,0.65,0.55,0.4,0.55,0.48,
0.35,0.5,0.4,0.3,0.42,0.32,0.22,0.35,0.25,0.15,0.22,0.15,0.08,0.12,0.06,0.03,0.03,0.03,0.03,0.03,0.03,0.03,0.03,0.03,
0.03,0.03,0.03,0.03,0.03,0.03];

const d120 = [7.45,7.46,7.47,7.48,7.5,7.51,7.52,7.54,7.55,7.56,7.58,7.6,
6.22,5.8,5.35,4.98,4.6,4.25,3.9,3.55,3.2,2.88,2.58,2.3,2.05,1.85,1.68,1.55,1.45,1.38,1.33,1.3,1.28,1.27,1.27,1.26,1.25,1.24,1.22,1.18,1.1,0.98,
0.82,0.65,0.57,0.6,0.68,0.82,1.0,1.15,1.25,1.28,1.2,1.13,0.71,0.95,1.02,0.88,0.7,0.85,0.92,0.62,0.8,0.88,0.6,0.75,0.85,0.58,0.72,0.8,0.55,0.75,
0.78,0.55,0.7,0.85,0.6,0.72,0.75,0.5,0.68,0.7,0.45,0.62,0.65,0.45,0.58,0.6,0.42,0.55,0.6,0.38,0.5,0.55,0.35,0.48,0.52,0.32,0.45,0.48,0.3,0.4,
0.42,0.3,0.35,0.38,0.28,0.3,0.32,0.2,0.25,0.22,0.14,0.18,0.15,0.1,0.2,0.24,0.18,0.22,0.2,0.15,0.12,0.1,0.08,0.06,
0.06,0.06,0.06,0.06,0.06,0.06,0.06,0.06,0.06,0.06,0.06,0.06,0.06,0.06,0.06,0.06,0.06,0.06,0.06,0.06,0.06,0.06,0.06,0.06,0.06,0.06];
const m120 = [7.46,7.47,7.48,7.5,7.51,7.52,7.54,7.55,7.56,7.58,7.6,
6.25,5.75,5.28,4.88,4.5,4.15,3.8,3.45,3.12,2.8,2.5,2.22,1.98,1.78,1.6,1.46,1.35,1.26,1.2,1.15,1.1,1.05,1.0,0.95,0.88,0.82,0.76,0.7,0.65,0.62,
0.6,0.6,0.62,0.66,0.72,0.85,1.05,1.3,1.55,1.75,1.85,1.7,1.25,0.95,1.25,1.5,1.25,0.92,1.1,1.3,1.02,0.88,1.15,1.1,0.85,1.05,1.08,0.82,1.0,1.02,
0.8,0.95,0.98,0.75,0.92,0.95,0.72,0.9,0.92,0.7,0.85,0.85,0.65,0.8,0.8,0.6,0.75,0.72,0.55,0.68,0.65,0.5,0.62,0.6,0.45,0.55,0.52,0.4,0.48,0.45,
0.38,0.42,0.38,0.32,0.4,0.3,0.25,0.32,0.22,0.15,0.2,0.12,0.08,0.06,0.04,0.03,0.03,0.03,0.03,0.03,0.03,0.03,0.03,0.03,
0.03,0.03,0.03,0.03,0.03,0.03];

const dataSets = [d106,d107,d108,d109,d110,d111,d112,d113,d114,d115,d116,d117,d118,d119,d120];
const modelSets = [m106,m107,m108,m109,m110,m111,m112,m113,m114,m115,m116,m117,m118,m119,m120];
// green curve: coincides with the measurement in layers 106-112, with the model elsewhere
const greenSets = [d106,d107,d108,d109,d110,d111,d112,m113,
  g114lo.concat(m114.slice(11)), m115, g116lo.concat(m116.slice(11)), m117,
  g118lo.concat(m118.slice(11)), m119, m120];

// ---- layout geometry (pixels of the 1165x1632 page) ----
const W = 1165, H = 1632;
const colEdges = [123.3, 469.2, 815.0, 1160.8];
const rowTop = 67.3, rowH = 293.3;
const serif = 'Liberation Serif';

const traces = [];
const layout = {
  width: W, height: H, margin: {l:0, r:0, t:0, b:0},
  paper_bgcolor: '#fff', plot_bgcolor: '#fff', showlegend: false,
  font: {family: serif, color: '#000', size: 24},
  annotations: []
};

for (let i = 0; i < 15; i++) {
  const row = Math.floor(i / 3), col = i % 3;
  const s = i === 0 ? '' : String(i + 1);
  const xa = 'x' + s, ya = 'y' + s;
  const x0 = colEdges[col] / W, x1 = colEdges[col + 1] / W;
  const yTopPx = rowTop + row * rowH, yBotPx = yTopPx + rowH;
  const y1 = 1 - yTopPx / H, y0 = 1 - yBotPx / H;

  const gx = i < 7 ? energy : modelEnergy;
  traces.push({x: gx, y: greenSets[i], xaxis: xa, yaxis: ya, type: 'scatter', mode: 'lines',
    line: {color: '#00ff00', width: i < 7 ? 1 : 2.8}, hoverinfo: 'skip'});
  traces.push({x: modelEnergy, y: modelSets[i], xaxis: xa, yaxis: ya, type: 'scatter', mode: 'lines',
    line: {color: '#000', width: 1}, hoverinfo: 'skip'});
  traces.push({x: energy, y: dataSets[i], xaxis: xa, yaxis: ya, type: 'scatter', mode: 'markers',
    cliponaxis: false,
    marker: {symbol: 'triangle-up-open', size: 6, color: '#0000ff', line: {color: '#0000ff', width: 2}},
    error_x: {type: 'constant', value: 0.8, color: '#ff0000', thickness: 1.2, width: 0},
    error_y: {type: 'constant', value: 0.11, color: '#ff0000', thickness: 1.2, width: 1.5},
    hoverinfo: 'skip'});

  const axCommon = {
    ticks: 'inside', tickwidth: 1, tickcolor: '#000', showline: true, linecolor: '#000', linewidth: 1.5,
    mirror: 'allticks', showgrid: false, zeroline: false, fixedrange: true,
    tickfont: {family: serif, size: 23, color: '#000'}
  };
  layout['xaxis' + s] = Object.assign({}, axCommon, {
    domain: [x0, x1], anchor: ya, range: [1, 84], tickmode: 'array', tickvals: xTickVals,
    ticklen: 16, showticklabels: row === 4, ticklabelstandoff: 3,
    minor: {ticks: 'inside', ticklen: 8, tickmode: 'linear', tick0: 0, dtick: 5, tickcolor: '#000', tickwidth: 1}
  });
  layout['yaxis' + s] = Object.assign({}, axCommon, {
    domain: [y0, y1], anchor: xa, range: [0, 9.15], tickmode: 'array', tickvals: yTickVals,
    ticklen: 16, showticklabels: col === 0,
    minor: {ticks: 'inside', ticklen: 8, tickmode: 'linear', tick0: 0, dtick: 0.5, tickcolor: '#000', tickwidth: 1}
  });
  // medium-length ticks (10-keV and odd-unit marks), drawn by overlay axes
  const k = 16 + i;
  const midCommon = {ticks: 'inside', tickwidth: 1, tickcolor: '#000', ticklen: 12, showticklabels: false,
    showline: false, showgrid: false, zeroline: false, mirror: 'allticks', fixedrange: true, tickmode: 'array'};
  layout['xaxis' + k] = Object.assign({}, midCommon, {domain: [x0, x1], anchor: ya, overlaying: xa,
    range: [1, 84], tickvals: xMidTicks});
  layout['yaxis' + k] = Object.assign({}, midCommon, {domain: [y0, y1], anchor: xa, overlaying: ya,
    range: [0, 9.15], tickvals: yMidTicks});

  layout.annotations.push({text: layerNames[i], xref: xa, yref: ya, x: 40, y: 7.95,
    xanchor: 'center', yanchor: 'middle', showarrow: false, font: {family: serif, size: 32, color: '#000'}});
}

layout.annotations.push({text: '<b>FM1\u00a0\u00a0\u00a0\u00a0\u00a0NuSTAR</b>', xref: 'paper', yref: 'paper',
  x: 642 / W, y: 1 - 21.6 / H, xanchor: 'center', yanchor: 'middle', showarrow: false,
  font: {family: serif, size: 36, color: '#000'}});
layout.annotations.push({text: 'NSI/DTU/2011\u201310\u201319/NJW', xref: 'paper', yref: 'paper',
  x: 1158.6 / W, y: 1 - 43.8 / H, xanchor: 'right', yanchor: 'middle', showarrow: false,
  font: {family: 'Liberation Sans', size: 17, color: '#000'}});
layout.annotations.push({text: '<b>Energy [keV]</b>', xref: 'paper', yref: 'paper',
  x: 642 / W, y: 1 - 1609.9 / H, xanchor: 'center', yanchor: 'middle', showarrow: false,
  font: {family: serif, size: 33, color: '#000'}});
layout.annotations.push({text: '<b>Effective Area [cm<sup>2</sup>]</b>', xref: 'paper', yref: 'paper',
  x: 30 / W, y: 1 - 844 / H, xanchor: 'center', yanchor: 'middle', textangle: -90, showarrow: false,
  font: {family: serif, size: 33, color: '#000'}});

Plotly.newPlot('chart', traces, layout, {displayModeBar: false, staticPlot: true}).then(function (gd) {
  gd.querySelectorAll('.xtick text, .ytick text').forEach(function (t) {
    t.style.fontFamily = "'Liberation Serif', serif";
  });
});
</script>
</body></html>
